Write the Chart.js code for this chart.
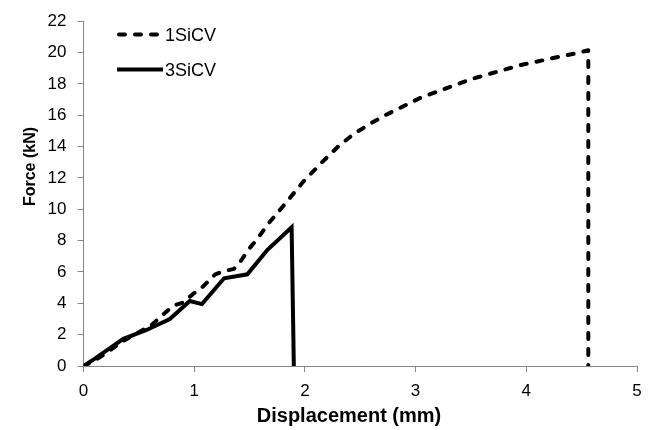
<!DOCTYPE html>
<html>
<head>
<meta charset="utf-8">
<script src="https://cdn.jsdelivr.net/npm/chart.js@4/dist/chart.umd.min.js"></script>
<style>
  html, body { margin: 0; padding: 0; background: #fff; }
  #wrap { width: 654px; height: 430px; }
</style>
</head>
<body>
<div id="wrap"><canvas id="c" width="654" height="430"></canvas></div>
<script>
// ---- data ----
const seriesNames = ["1SiCV", "3SiCV"];

const sic1X = [0, 0.1, 0.2, 0.36, 0.5, 0.62, 0.81, 0.9, 0.99, 1.07, 1.19, 1.27, 1.36, 1.42, 1.51, 1.57, 1.66, 1.78, 1.99, 2.14, 2.3, 2.44, 2.6, 2.74, 3.04, 3.5, 3.95, 4.31, 4.45, 4.56, 4.56];
const sic1Y = [0, 0.35, 0.8, 1.6, 2.15, 2.65, 3.85, 4.05, 4.6, 5.0, 5.85, 6.05, 6.2, 6.7, 7.6, 8.1, 9.0, 10.0, 11.8, 12.9, 14.0, 14.8, 15.5, 16.05, 17.1, 18.3, 19.2, 19.75, 19.95, 20.15, 0];

const sic3X = [0, 0.1, 0.2, 0.36, 0.57, 0.78, 0.96, 1.07, 1.27, 1.48, 1.66, 1.88, 1.9];
const sic3Y = [0, 0.45, 0.95, 1.73, 2.3, 3.0, 4.15, 3.95, 5.6, 5.85, 7.4, 8.85, 0];

const xTicks = [0, 1, 2, 3, 4, 5];
const yTicks = [0, 2, 4, 6, 8, 10, 12, 14, 16, 18, 20, 22];
const xTitle = "Displacement (mm)";
const yTitle = "Force (kN)";

function pts(xs, ys) { return xs.map((x, i) => ({ x: x, y: ys[i] })); }

const AXIS = '#868686';
const TXT = '#000';

const overlay = {
  id: 'overlay',
  afterDraw(chart) {
    const ctx = chart.ctx;
    ctx.save();
    // legend (inside plot, top-left)
    const legendRows = [
      { y: 34.5, ty: 36 },
      { y: 69.5, ty: 71 }
    ];
    chart.data.datasets.forEach((ds, i) => {
      const r = legendRows[i];
      const dashed = (ds.borderDash || []).length > 0;
      ctx.beginPath();
      ctx.strokeStyle = ds.borderColor;
      ctx.lineWidth = ds.borderWidth;
      ctx.lineCap = ds.borderCapStyle || 'butt';
      ctx.setLineDash(ds.borderDash || []);
      ctx.moveTo(dashed ? 119 : 117, r.y);
      ctx.lineTo(dashed ? 161 : 163, r.y);
      ctx.stroke();
      ctx.setLineDash([]);
      ctx.fillStyle = TXT;
      ctx.font = '18px "Liberation Sans", Arial, sans-serif';
      ctx.textAlign = 'left';
      ctx.textBaseline = 'middle';
      ctx.fillText(ds.label, 165, r.ty);
    });
    // x axis title
    ctx.fillStyle = TXT;
    ctx.font = 'bold 20px "Liberation Sans", Arial, sans-serif';
    ctx.textAlign = 'center';
    ctx.textBaseline = 'alphabetic';
    ctx.fillText(xTitle, 349, 421.5);
    // y axis title
    ctx.translate(30.5, 166.5);
    ctx.rotate(-Math.PI / 2);
    ctx.font = 'bold 16px "Liberation Sans", Arial, sans-serif';
    ctx.textAlign = 'center';
    ctx.textBaseline = 'middle';
    ctx.fillText(yTitle, 0, 0);
    ctx.restore();
  }
};

new Chart(document.getElementById('c'), {
  type: 'line',
  data: {
    datasets: [
      {
        label: seriesNames[0],
        data: pts(sic1X, sic1Y),
        borderColor: '#000',
        backgroundColor: '#000',
        borderWidth: 4,
        borderDash: [6, 10],
        borderCapStyle: 'round',
        borderJoinStyle: 'round',
        pointRadius: 0,
        tension: 0,
        fill: false
      },
      {
        label: seriesNames[1],
        data: pts(sic3X, sic3Y),
        borderColor: '#000',
        backgroundColor: '#000',
        borderWidth: 4,
        borderCapStyle: 'butt',
        borderJoinStyle: 'miter',
        pointRadius: 0,
        tension: 0,
        fill: false
      }
    ]
  },
  options: {
    responsive: false,
    animation: false,
    devicePixelRatio: 1,
    layout: { padding: { left: 0, right: 17, top: 17, bottom: 0 } },
    plugins: {
      legend: { display: false },
      tooltip: { enabled: false },
      title: { display: false }
    },
    scales: {
      x: {
        type: 'linear',
        min: 0,
        max: 5,
        afterBuildTicks(scale) { scale.ticks = xTicks.map(v => ({ value: v })); },
        afterFit(scale) { scale.height = 64; },
        ticks: {
          color: TXT,
          font: { family: '"Liberation Sans", Arial, sans-serif', size: 17 },
          padding: 9,
          maxRotation: 0
        },
        grid: { display: true, drawOnChartArea: false, drawTicks: true, tickLength: 6, color: AXIS, lineWidth: 1 },
        border: { display: true, color: AXIS, width: 1 }
      },
      y: {
        type: 'linear',
        min: 0,
        max: 22,
        afterBuildTicks(scale) { scale.ticks = yTicks.map(v => ({ value: v })); },
        afterFit(scale) { scale.width = 83.5; },
        ticks: {
          color: TXT,
          font: { family: '"Liberation Sans", Arial, sans-serif', size: 17 },
          padding: 11
        },
        grid: { display: true, drawOnChartArea: false, drawTicks: true, tickLength: 6, color: AXIS, lineWidth: 1 },
        border: { display: true, color: AXIS, width: 1 }
      }
    }
  },
  plugins: [overlay]
});
</script>
</body>
</html>
